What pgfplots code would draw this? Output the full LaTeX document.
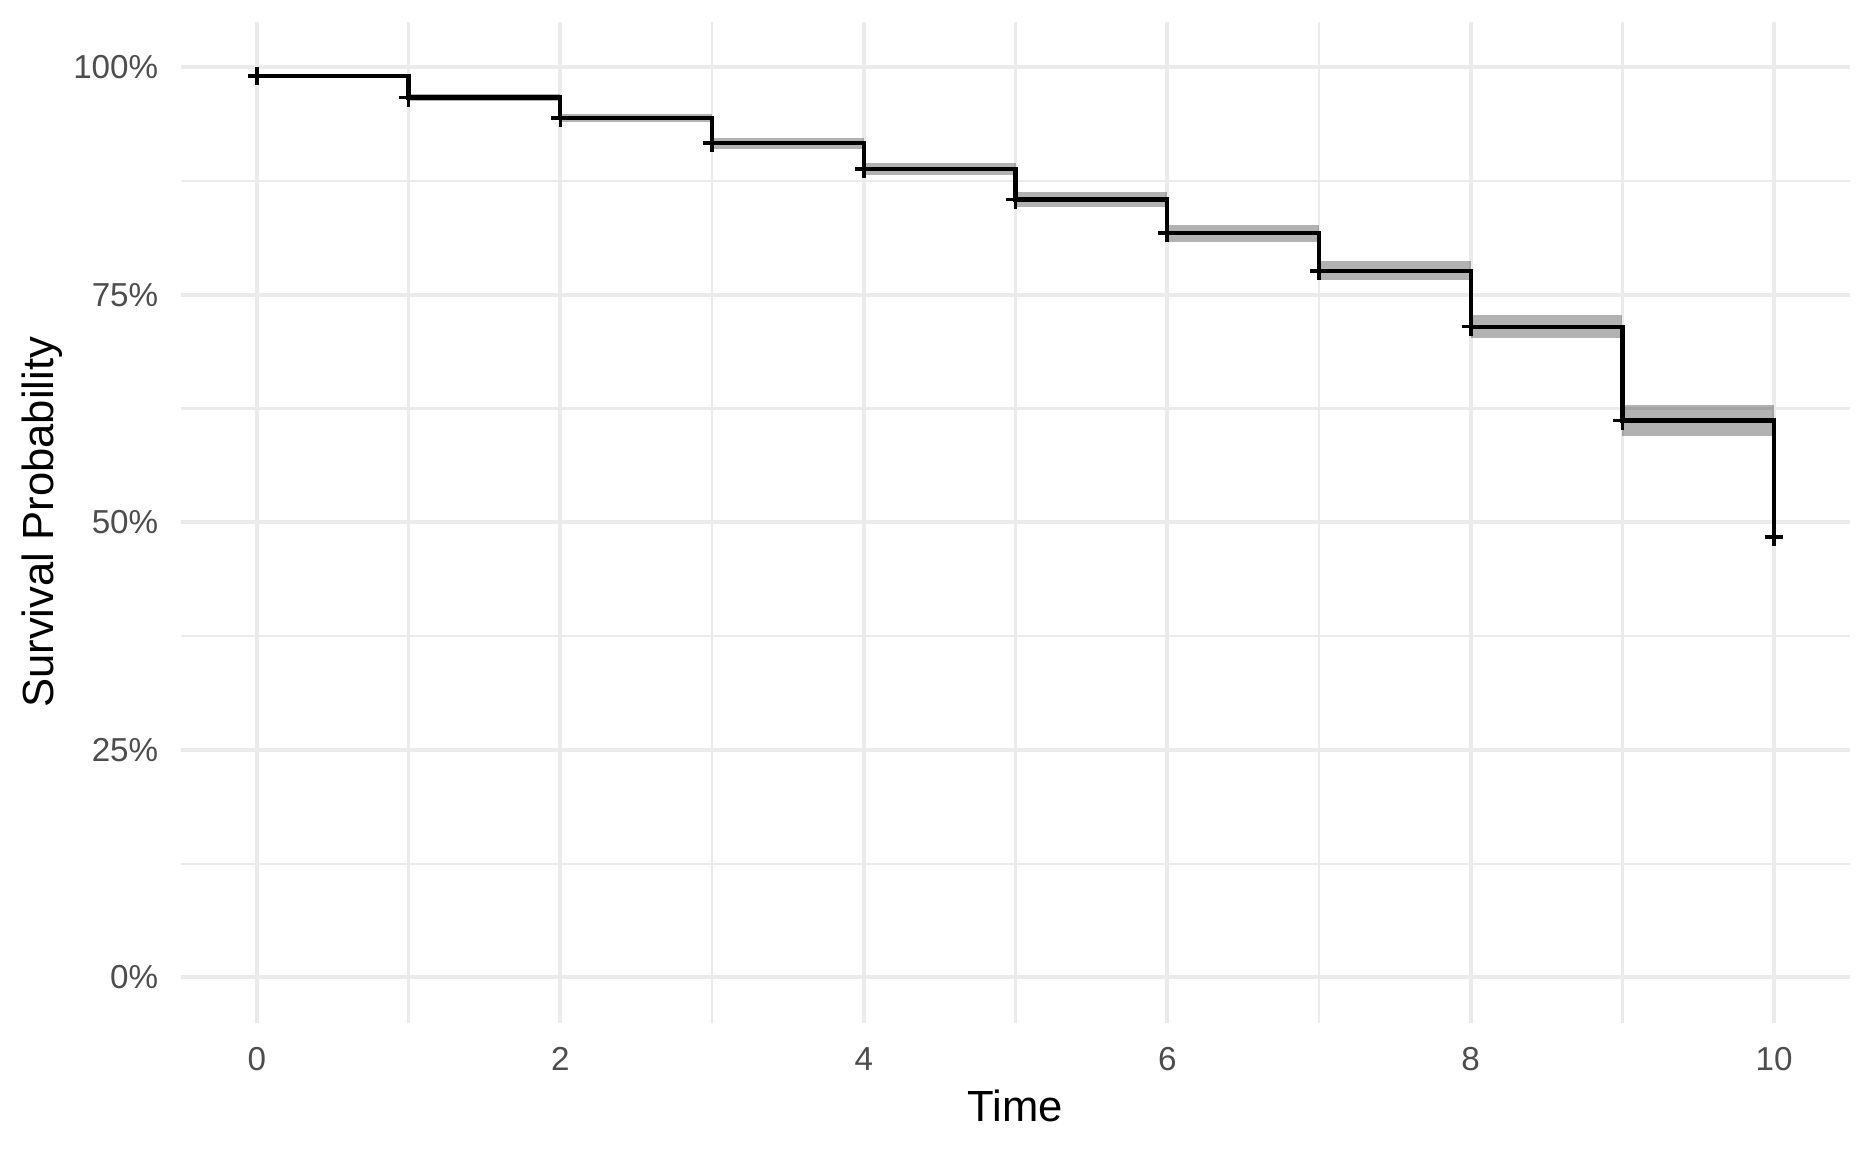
\documentclass[border=0pt]{standalone}
\usepackage{pgfplots}
\pgfplotsset{compat=1.18}
\usepackage{fontspec}
\setmainfont{Liberation Sans}
\definecolor{ggGrid}{HTML}{EBEBEB}
\definecolor{tickgray}{HTML}{4D4D4D}
\begin{document}
\begin{tikzpicture}
\useasboundingbox (0,0) rectangle (468pt,288pt);
\begin{axis}[
  at={(45.25pt,32.25pt)}, anchor=south west,
  scale only axis, width=417.25pt, height=250.35pt,
  xmin=-0.5, xmax=10.5, ymin=-0.05, ymax=1.05,
  axis line style={draw=none},
  tick style={draw=none},
  xtick={0,2,4,6,8,10},
  minor xtick={1,3,5,7,9},
  ytick={0,0.25,0.5,0.75,1},
  yticklabels={0\%,25\%,50\%,75\%,100\%},
  minor ytick={0.125,0.375,0.625,0.875},
  grid=both,
  major grid style={color=ggGrid, line width=1pt},
  minor grid style={color=ggGrid, line width=0.55pt},
  /pgf/number format/assume math mode=true,
  ticklabel style={font=\fontsize{8.3}{9.5}\selectfont, text=tickgray, inner sep=0pt},
  yticklabel style={anchor=east, xshift=-5.5pt},
  xticklabel style={anchor=north, yshift=-6pt},
  xlabel={Time},
  ylabel={Survival Probability},
  label style={font=\fontsize{10.9}{13}\selectfont, text=black},
  xlabel style={at={(axis description cs:0.5,-0.0829)}, anchor=center},
  ylabel style={at={(axis description cs:-0.0833,0.5)}, anchor=center},
  clip=false,
]
% confidence bands
\addplot[fill=black, fill opacity=0.3, draw=none] coordinates {(1,0.9629)(2,0.9629)(2,0.9703)(1,0.9703)} --cycle;
\addplot[fill=black, fill opacity=0.3, draw=none] coordinates {(2,0.9399)(3,0.9399)(3,0.9484)(2,0.9484)} --cycle;
\addplot[fill=black, fill opacity=0.3, draw=none] coordinates {(3,0.9105)(4,0.9105)(4,0.9226)(3,0.9226)} --cycle;
\addplot[fill=black, fill opacity=0.3, draw=none] coordinates {(4,0.8816)(5,0.8816)(5,0.8944)(4,0.8944)} --cycle;
\addplot[fill=black, fill opacity=0.3, draw=none] coordinates {(5,0.8462)(6,0.8462)(6,0.8626)(5,0.8626)} --cycle;
\addplot[fill=black, fill opacity=0.3, draw=none] coordinates {(6,0.8078)(7,0.8078)(7,0.8265)(6,0.8265)} --cycle;
\addplot[fill=black, fill opacity=0.3, draw=none] coordinates {(7,0.7661)(8,0.7661)(8,0.7870)(7,0.7870)} --cycle;
\addplot[fill=black, fill opacity=0.3, draw=none] coordinates {(8,0.7029)(9,0.7029)(9,0.7277)(8,0.7277)} --cycle;
\addplot[fill=black, fill opacity=0.3, draw=none] coordinates {(9,0.5950)(10,0.5950)(10,0.6290)(9,0.6290)} --cycle;
% survival curve
\addplot[const plot, black, line width=1.05pt, mark=none] coordinates {
(0,0.990)(1,0.9665)(2,0.9438)(3,0.9163)(4,0.8878)(5,0.8546)(6,0.8177)(7,0.7763)(8,0.7149)(9,0.6118)(10,0.484)};
% censor marks
\addplot[only marks, mark=+, mark size=2.3pt, black, line width=0.9pt] coordinates {
(0,0.990)(1,0.9665)(2,0.9438)(3,0.9163)(4,0.8878)(5,0.8546)(6,0.8177)(7,0.7763)(8,0.7149)(9,0.6118)(10,0.484)};
\end{axis}
\end{tikzpicture}
\end{document}
